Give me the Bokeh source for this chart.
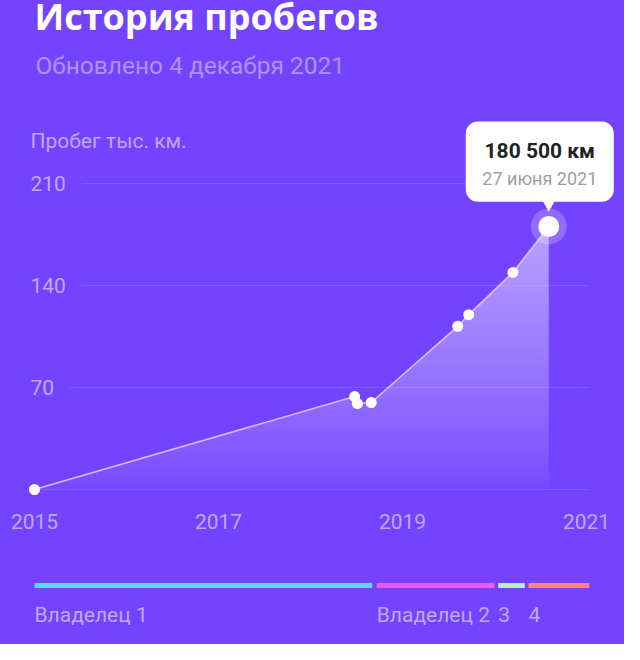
import numpy as np
from bokeh.plotting import figure
from bokeh.models import Range1d, FixedTicker, BoxAnnotation, Label
from bokeh.layouts import column
from bokeh.embed import file_html
from bokeh.resources import INLINE
from bokeh.core.properties import value

# ---------------- data ----------------
dates = [2015.0, 2018.48, 2018.51, 2018.66, 2019.60, 2019.72, 2020.20, 2020.59]
mileage = [0.0, 63.8, 59.0, 59.7, 112.0, 120.0, 149.0, 180.5]
y_ticks = [70, 140, 210]
x_ticks = [2015, 2017, 2019, 2021]
owner_names = ["Владелец 1", "Владелец 2", "3", "4"]
owner_start = [2015.0, 2018.72, 2020.04, 2020.37]
owner_end = [2018.67, 2020.0, 2020.33, 2021.03]
owner_colors = ["#5fd8f6", "#ef58f0", "#bdf0b3", "#f98b6b"]
title_text = "История пробегов"
subtitle_text = "Обновлено 4 декабря 2021"
y_title_text = "Пробег тыс. км."
tip_value = "180 500 км"
tip_date = "27 июня 2021"

# ---------------- style / geometry ----------------
BG = "#7343ff"
MUTED = "#bfa9ff"
FONT = value("Roboto")
W = 624
H1 = 552
H2 = 92
PXX = 92.0          # px per year
PXY = 102.0 / 70.0  # px per 1000 km
X0 = dates[0]


def dx(px):
    return px / PXX


def dy(px):
    return px / PXY


x_range = Range1d(X0 - dx(34), X0 + dx(590))
y_range = Range1d(-dy(8), dy(489))

p = figure(width=W, height=H1, x_range=x_range, y_range=y_range,
           output_backend="svg", toolbar_location=None,
           y_axis_location=None, min_border_left=0, min_border_right=0,
           min_border_top=0, min_border_bottom=55)
p.background_fill_alpha = 0
p.border_fill_color = BG
p.outline_line_color = None
p.grid.visible = False

# x axis
p.xaxis.ticker = FixedTicker(ticks=x_ticks)
p.xaxis.axis_line_color = None
p.xaxis.major_tick_line_color = None
p.xaxis.minor_tick_line_color = None
p.xaxis.major_label_text_font = "Roboto"
p.xaxis.major_label_text_font_size = "21px"
p.xaxis.major_label_text_color = MUTED
p.xaxis.major_label_standoff = 10

# area gradient (image) masked above the curve
ymax = max(mileage)
N = 200
h = np.linspace(0, 1, N)
alpha = 0.03 + 0.47 * h ** 0.85
img = np.empty((N, 1), dtype=np.uint32)
view = img.view(dtype=np.uint8).reshape((N, 1, 4))
view[:, 0, 0] = 255
view[:, 0, 1] = 255
view[:, 0, 2] = 255
view[:, 0, 3] = (alpha * 255).astype(np.uint8)
p.image_rgba(image=[img], x=dates[0], y=0, dw=dates[-1] - dates[0], dh=ymax)
pad_x, pad_y = dx(20), dy(20)
mask_x = [dates[0] - pad_x, dates[0] - pad_x] + dates + [dates[-1] + pad_x, dates[-1] + pad_x]
mask_y = [-pad_y, 0] + mileage + [ymax, ymax + pad_y]
mask_x += [dates[0] - pad_x]
mask_y += [ymax + pad_y]
p.patch(mask_x, mask_y, fill_color=BG, fill_alpha=1, line_color=BG, line_width=1)

# grid lines
x_grid_end = max(owner_end)
grid_vals = [0] + y_ticks
grid_x0 = [dates[0]] + [X0 - dx(4) + dx(len(str(t)) * 12 + 15) for t in y_ticks]
p.segment(x0=grid_x0, y0=grid_vals, x1=[x_grid_end] * len(grid_vals), y1=grid_vals,
          line_color="white", line_alpha=0.12, line_width=1)

# y tick labels and axis title
p.text(x=[X0 - dx(4)] * len(y_ticks), y=y_ticks, text=[str(t) for t in y_ticks],
       text_font=FONT, text_font_size="21px", text_color=MUTED,
       text_align="left", text_baseline="middle")
p.text(x=[X0 - dx(4)], y=[dy(349)], text=[y_title_text],
       text_font=FONT, text_font_size="21px", text_color=MUTED,
       text_align="left", text_baseline="middle")

# titles
p.text(x=[X0 + dx(0)], y=[dy(497 - 24)], text=[title_text],
       text_font=value("Open Sans"), text_font_size="36px", text_font_style="bold",
       text_color="white", text_align="left", text_baseline="middle")
p.text(x=[X0 + dx(1)], y=[dy(497 - 73)], text=[subtitle_text],
       text_font=FONT, text_font_size="24.5px", text_color="#ab95fb",
       text_align="left", text_baseline="middle")

# line and points
p.line(dates, mileage, line_color="white", line_alpha=0.65, line_width=1.6)
p.scatter(dates[:-1], mileage[:-1], size=11, fill_color="white", line_color=None)
lx, ly = dates[-1], mileage[-1]
p.scatter([lx], [ly], size=36, fill_color="white", fill_alpha=0.22, line_color=None)
p.scatter([lx], [ly], size=21, fill_color="white", line_color=None)

# tooltip
p.scatter([lx], [ly + dy(22)], marker="inverted_triangle", size=12,
          fill_color="white", line_color=None)
box = BoxAnnotation(left=lx - dx(83), right=lx + dx(65),
                    top=ly + dy(105), bottom=ly + dy(24.7),
                    fill_color="white", fill_alpha=1, line_color=None,
                    border_radius=12)
p.add_layout(box)
p.add_layout(Label(x=lx - dx(9), y=ly + dy(75), text=tip_value,
                   text_font="Roboto", text_font_size="21px", text_font_style="bold",
                   text_color="#222222", text_align="center", text_baseline="middle"))
p.add_layout(Label(x=lx - dx(9), y=ly + dy(48), text=tip_date,
                   text_font="Roboto", text_font_size="18px",
                   text_color="#9e9e9e", text_align="center", text_baseline="middle"))

# ---------------- owners strip ----------------
ROW = 29.0
p2 = figure(width=W, height=H2, x_range=x_range,
            y_range=Range1d(-(H2 - 33) / ROW, 33 / ROW),
            output_backend="svg", toolbar_location=None,
            x_axis_location=None, y_axis_location=None,
            min_border_left=0, min_border_right=0,
            min_border_top=0, min_border_bottom=0)
p2.background_fill_alpha = 0
p2.border_fill_color = BG
p2.outline_line_color = None
p2.grid.visible = False
p2.segment(x0=owner_start, y0=[0] * len(owner_start), x1=owner_end,
           y1=[0] * len(owner_end), line_color=owner_colors, line_width=5,
           line_cap="butt")
p2.text(x=owner_start, y=[-1] * len(owner_start), text=owner_names,
        text_font=FONT, text_font_size="21px", text_color=MUTED,
        text_align="left", text_baseline="middle")

layout = column(p, p2, spacing=0, styles={"background-color": BG})
open("out.html", "w").write(file_html(layout, INLINE))
